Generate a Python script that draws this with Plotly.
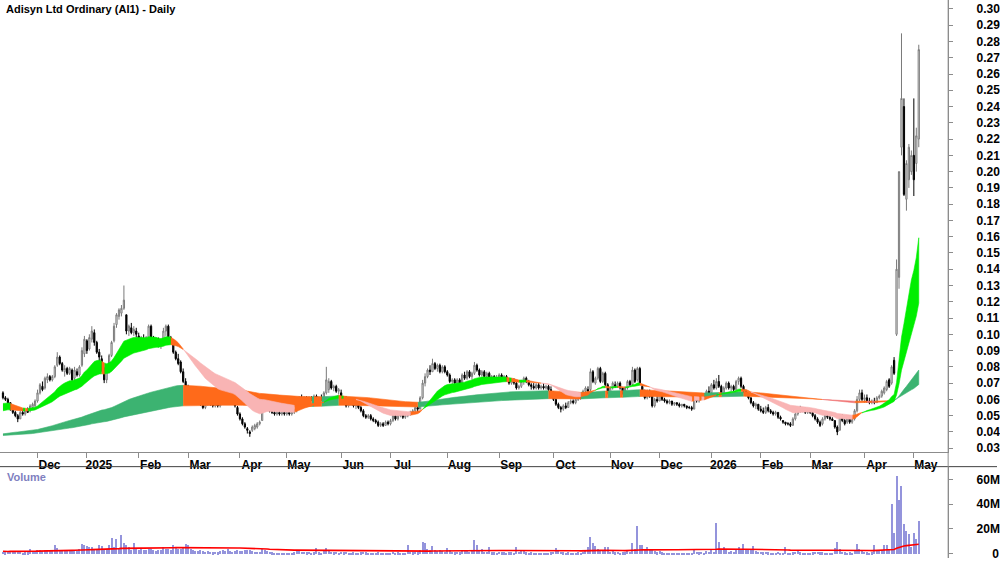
import pandas as pd
import plotly.graph_objects as go

TITLE = "Adisyn Ltd Ordinary (AI1) - Daily"

# Daily bars per month: (open, high, low, close) in thousandths of a dollar, volume in 0.1M shares
nov24 = [(64,65,60,61,20),(61,62,59,60,15),(60,61,57,58,18),(58,58,53,54,22),(54,56,51,52,17),(52,53,49,50,20),(50,51,46,48,25),
         (48,53,48,52,18),(52,54,50,51,12),(51,53,50,53,15),(53,55,52,52,14),(53,57,52,56,40),(55,58,54,57,22),(56,60,55,59,25)]
dec24 = [(59,66,58,64,30),(64,70,63,69,35),(68,71,65,66,28),(67,74,66,73,32),(72,76,70,74,30),(74,75,71,72,25),(72,75,71,74,22),
         (74,81,73,80,75),(81,89,80,86,50),(86,87,81,82,35),(82,83,77,78,30),(77,81,74,79,28),(79,80,75,76,25),(76,80,75,79,30),
         (78,79,69,72,35),(73,80,72,78,32),(77,79,74,75,25),(75,81,74,80,40),(81,92,80,90,85),(88,99,86,97,75)]
jan25 = [(96,97,88,90,67),(91,100,90,98,60),(97,105,95,102,55),(101,103,93,95,40),(95,96,88,89,35),(89,91,83,86,70),(85,87,77,78,65),
         (79,80,70,72,45),(72,80,70,78,40),(77,88,76,87,75),(87,96,86,95,130),(96,107,95,105,60),(106,113,104,112,120),(111,116,109,115,50),
         (113,118,111,116,150),(116,130,115,121,90),(112,112,100,102,70),(102,106,99,105,60),(104,107,100,101,35),(101,105,99,103,90),(102,104,98,100,40)]
feb25 = [(99,101,94,96,35),(96,99,94,98,40),(97,100,95,96,30),(96,99,95,98,35),(98,106,97,105,45),(105,106,97,98,38),(98,99,95,96,30),
         (96,98,94,97,28),(97,98,92,93,35),(93,96,91,95,30),(95,104,94,102,60),(102,106,99,105,45),(105,106,97,98,40),(98,99,94,96,35),
         (96,97,88,89,75),(89,90,84,85,50),(85,88,81,82,40),(83,84,76,77,45),(77,79,70,71,50),(71,73,66,68,85)]
mar25 = [(68,69,63,64,75),(64,67,62,66,40),(65,66,61,62,30),(62,64,60,63,25),(63,64,60,61,22),(61,61,56,57,30),(57,58,54,55,25),
         (55,58,54,57,20),(57,60,56,59,22),(59,60,56,57,18),(57,58,55,56,15),(56,58,55,57,18),(57,57,55,56,14),(56,60,55,59,25),
         (59,63,58,62,30),(62,63,59,60,22),(60,66,59,64,40),(64,65,58,59,28),(59,60,57,58,20),(58,59,55,56,22),(55,56,50,51,30)]
apr25 = [(51,52,47,48,28),(48,49,44,45,25),(45,46,42,43,30),(42,43,39,41,35),(40,41,37,39,30),(41,44,40,43,22),(42,45,41,44,18),
         (43,46,42,45,20),(45,47,44,46,18),(47,56,47,55,40),(54,61,53,59,35),(59,60,55,56,22),(56,57,52,53,18),(53,55,51,52,15),
         (52,53,50,51,12),(51,53,50,52,10),(52,53,50,51,12),(51,53,50,52,10),(52,53,50,51,8)]
may25 = [(51,53,50,52,10),(52,53,50,51,8),(51,53,50,52,12),(52,54,51,53,15),(53,58,52,57,25),(57,62,56,61,30),(60,63,58,59,18),
         (59,62,58,61,20),(61,62,58,59,15),(59,62,58,61,18),(61,62,59,60,12),(60,63,59,62,15),(62,63,59,60,50),(60,62,58,61,15),
         (61,63,59,60,12),(60,65,59,64,25),(64,80,63,72,50),(66,73,64,71,30),(71,72,66,67,20),(67,69,65,68,15),(68,69,64,65,18),(65,67,63,66,12)]
jun25 = [(64,66,57,58,20),(58,62,57,61,15),(61,62,55,56,18),(56,59,55,58,12),(58,60,56,59,10),(59,60,55,56,15),(56,58,54,57,12),
         (57,58,54,55,10),(55,56,52,53,14),(53,54,49,50,18),(50,51,48,49,15),(49,51,48,50,10),(50,51,47,48,12),(48,49,46,47,10),
         (47,48,45,46,12),(46,47,43,44,15),(44,46,43,45,10),(45,46,43,44,8),(44,47,44,46,12),(46,47,44,45,10)]
jul25 = [(45,48,44,47,12),(47,51,46,50,18),(50,51,47,48,12),(48,51,47,50,14),(50,52,49,51,12),(51,52,48,49,10),(49,51,48,50,12),
         (50,52,49,51,75),(51,53,50,52,18),(52,54,51,53,15),(53,56,52,55,20),(55,56,52,54,15),(54,62,54,61,35),(61,72,60,70,100),
         (70,76,68,74,90),(74,79,73,78,45),(78,81,75,77,30),(77,85,77,82,67),(82,83,78,79,35),(79,82,77,81,25),(81,82,76,77,30),
         (77,81,76,80,22),(80,81,76,77,20)]
aug25 = [(77,78,74,75,50),(75,76,70,71,30),(71,73,69,72,20),(72,73,69,70,15),(70,73,69,72,18),(72,73,69,70,15),(70,76,70,75,30),
         (75,77,72,73,22),(73,78,72,77,25),(77,78,73,74,20),(74,77,72,76,25),(76,83,75,81,110),(81,82,77,78,75),(78,79,74,75,30),
         (75,78,74,77,40),(77,78,73,74,20),(74,77,72,76,18),(76,77,72,73,60),(73,75,71,74,15),(74,75,71,72,14),(72,75,71,73,12)]
sep25 = [(73,76,72,75,18),(75,76,72,73,15),(73,75,71,74,14),(74,75,71,72,12),(72,73,69,70,15),(70,73,69,72,14),(72,73,69,70,12),
         (70,71,66,67,60),(67,69,66,68,18),(68,72,67,71,22),(71,74,69,73,25),(73,74,70,71,15),(71,72,68,69,12),(69,70,66,68,14),
         (68,70,66,67,10),(67,70,66,69,12),(69,70,66,67,10),(67,69,66,68,8),(68,70,66,67,10),(67,69,66,68,8),(68,69,65,66,12),(66,68,63,64,15)]
oct25 = [(64,65,59,60,20),(60,61,56,57,50),(57,58,54,55,25),(55,56,52,54,20),(54,57,53,56,15),(56,58,54,55,12),(55,59,55,58,14),
         (58,60,57,59,12),(59,60,57,58,10),(58,61,57,60,12),(60,63,59,62,15),(62,64,60,61,12),(61,66,61,65,20),(65,68,63,67,25),
         (66,68,64,65,60),(66,79,65,77,140),(77,78,70,71,90),(70,74,69,73,67),(73,80,72,79,40),(79,80,70,71,35),(71,77,70,76,25),
         (76,77,68,69,55),(69,70,63,64,55)]
nov25 = [(64,68,63,67,20),(67,71,66,70,25),(69,71,67,68,15),(68,71,67,70,18),(70,71,66,67,12),(67,67,63,64,15),(64,68,63,67,14),
         (67,72,66,71,25),(71,72,68,69,20),(69,80,69,78,90),(78,79,70,71,45),(72,80,71,79,226),(79,80,69,70,70),(68,69,63,64,70),
         (64,66,60,61,40),(61,66,60,65,55),(65,66,61,62,30),(62,62,55,56,40),(56,61,55,60,25),(60,62,58,59,15)]
dec25 = [(59,65,59,64,25),(64,65,59,60,15),(60,61,58,59,12),(59,60,57,58,10),(58,60,57,59,12),(59,59,56,57,10),(57,58,56,58,8),
         (58,58,56,57,10),(57,58,55,56,8),(56,57,55,57,10),(57,57,55,56,8),(56,56,54,55,10),(55,56,54,55,8),(55,56,53,54,12),
         (54,63,54,62,35),(61,62,58,59,20),(59,62,58,61,15),(61,64,60,62,18),(62,63,60,61,12),(61,66,61,65,25),(65,68,63,64,20)]
jan26 = [(64,70,63,69,30),(69,72,66,67,20),(67,73,66,71,250),(71,75,67,68,100),(68,69,63,64,40),(64,68,63,67,55),(67,71,66,70,30),
         (70,71,66,67,20),(67,69,65,68,25),(68,69,65,66,20),(66,72,66,71,35),(71,74,69,73,60),(73,74,67,68,40),(68,69,64,65,80),
         (65,66,62,63,45),(63,64,60,61,30),(61,61,57,58,35),(58,59,55,56,65),(56,58,54,57,25),(57,57,53,54,20)]
feb26 = [(54,56,52,53,18),(53,55,51,52,15),(52,56,51,55,20),(55,57,52,53,15),(53,54,51,52,12),(52,53,50,51,10),(51,53,50,52,12),
         (52,52,48,49,18),(49,50,47,48,12),(47,47,45,46,10),(46,46,44,45,60),(45,46,44,45,8),(45,46,43,44,10),(44,49,44,48,15),
         (48,52,47,51,20),(51,55,50,54,25),(54,56,52,53,15),(53,55,52,54,12),(54,55,51,52,10),(52,54,51,53,12)]
mar26 = [(53,54,51,52,10),(52,53,49,50,15),(50,51,47,48,18),(48,49,45,46,20),(46,47,43,44,15),(45,49,44,48,14),(48,51,47,50,12),
         (50,51,48,49,10),(49,50,47,48,8),(48,49,47,47,10),(47,47,42,43,50),(43,44,38,40,100),(41,51,41,50,40),(50,51,46,47,20),
         (47,48,44,45,15),(46,49,45,48,12),(48,49,45,46,14),(46,49,45,48,12),(48,54,47,53,30),(53,62,52,60,80),(60,66,59,64,45),(64,66,59,60,25)]
apr26 = [(60,63,58,61,20),(61,63,58,59,15),(59,61,57,58,12),(58,60,57,59,14),(59,61,57,58,70),(58,62,58,61,30),(61,63,60,62,25),
         (62,66,61,65,30),(64,68,63,67,70),(66,72,65,71,70),(72,73,67,68,35),(70,81,69,80,400),(84,86,75,76,170),(100,146,99,140,630),
         (135,200,128,200,440),(215,285,210,245,550),(240,245,185,186,240),(183,207,176,205,190),(195,217,190,215,160),(200,213,198,210,60)]
may26 = [(210,245,185,195,170),(205,227,200,222,120),(220,278,215,275,270)]

months = [nov24, dec24, jan25, feb25, mar25, apr25, may25, jun25, jul25, aug25, sep25, oct25,
          nov25, dec25, jan26, feb26, mar26, apr26, may26]

# Ribbon starting levels read at the left edge of the chart
short_fast_start, short_slow_start = 0.0575, 0.0530
long_fast_start, long_slow_start = 0.0388, 0.0378

price_ticks = [round(0.03 + 0.01 * k, 2) for k in range(28)]
vol_ticks = [0, 20e6, 40e6, 60e6]
vol_tick_text = ["\u2007\u2007\u20090", "20M", "40M", "60M"]

# ---------------------------------------------------------------------------
rows = [r for m in months for r in m]
opens = [r[0] / 1000 for r in rows]
highs = [r[1] / 1000 for r in rows]
lows = [r[2] / 1000 for r in rows]
closes = [r[3] / 1000 for r in rows]
volumes = [r[4] * 1e5 for r in rows]

holidays = pd.to_datetime(["2024-12-25", "2024-12-26", "2025-01-01", "2025-01-27", "2025-04-18", "2025-04-21",
                           "2025-04-25", "2025-06-09", "2025-12-25", "2025-12-26", "2026-01-01", "2026-01-26",
                           "2026-04-03", "2026-04-06"])
days = pd.bdate_range("2024-11-12", periods=len(rows) + 20)
days = days[~days.isin(holidays)][:len(rows)]
idx = list(range(len(rows)))

# month ticks
tickvals, ticktext = [], []
for i in range(1, len(days)):
    if days[i].month != days[i - 1].month:
        tickvals.append(i)
        ticktext.append(str(days[i].year) if days[i].month == 1 else days[i].strftime("%b"))


def ema(vals, period, start):
    a = 2.0 / (period + 1)
    out = [start]
    for v in vals[1:]:
        out.append(a * v + (1 - a) * out[-1])
    return out


sf = ema(closes, 20, short_fast_start)
ss = ema(closes, 40, short_slow_start)
lf = ema(closes, 150, long_fast_start)
ls = ema(closes, 300, long_slow_start)
vol_ma = pd.Series(volumes).rolling(60, min_periods=1).mean().tolist()

GREEN, PINK, ORANGE = "#00EE00", "#F9B4B4", "#FF6A1A"
DGREEN, RED = "#3CB371", "#F07474"


def band_traces(fast, slow, up_col, down_col, slope_of):
    cols = [None]
    for i in range(1, len(fast)):
        rising = slope_of[i] >= slope_of[i - 1]
        if fast[i] > slow[i] and rising:
            cols.append(up_col)
        elif fast[i] < slow[i] and not rising:
            cols.append(down_col)
        else:
            cols.append(ORANGE)
    polys = {}
    i = 1
    while i < len(fast):
        c = cols[i]
        j = i
        while j + 1 < len(fast) and cols[j + 1] == c:
            j += 1
        xs = list(range(i - 1, j + 1))
        px = xs + xs[::-1] + [None]
        py = [fast[k] for k in xs] + [slow[k] for k in xs[::-1]] + [None]
        polys.setdefault(c, ([], []))
        polys[c][0].extend(px)
        polys[c][1].extend(py)
        i = j + 1
    out = []
    for c, (px, py) in polys.items():
        out.append(go.Scatter(x=px, y=py, mode="lines", fill="toself", fillcolor=c,
                              line=dict(width=0.6, color=c), hoverinfo="skip", showlegend=False,
                              xaxis="x", yaxis="y"))
    return out


fig = go.Figure()
for t in band_traces(lf, ls, DGREEN, RED, lf):
    fig.add_trace(t)
for t in band_traces(sf, ss, GREEN, PINK, ss):
    fig.add_trace(t)

fig.add_trace(go.Candlestick(
    x=idx, open=opens, high=highs, low=lows, close=closes,
    increasing=dict(line=dict(color="#7A7A7A", width=1), fillcolor="#FFFFFF"),
    decreasing=dict(line=dict(color="#000000", width=1), fillcolor="#000000"),
    whiskerwidth=0, showlegend=False, xaxis="x", yaxis="y"))

fig.add_trace(go.Bar(x=idx, y=volumes, marker=dict(color="#9494DC", line=dict(width=0)), width=0.45,
                     showlegend=False, xaxis="x2", yaxis="y2"))
fig.add_trace(go.Scatter(x=idx, y=vol_ma, mode="lines", line=dict(color="#FF0000", width=1.6),
                         showlegend=False, xaxis="x2", yaxis="y2"))

FONT = "Liberation Sans Narrow, Arial Narrow, Liberation Sans, Arial, sans-serif"
H = 562.0
xr = [-1.2, 382.9]
fig.update_layout(
    width=1000, height=562, margin=dict(l=0, r=0, t=0, b=0),
    paper_bgcolor="white", plot_bgcolor="white", showlegend=False, bargap=0,
    font=dict(family=FONT, size=12, color="black"),
    xaxis=dict(domain=[0, 0.951], range=xr, anchor="y", showgrid=False, zeroline=False,
               showline=True, linecolor="#8C8C8C", linewidth=1, ticks="outside", ticklen=5, tickcolor="#8C8C8C",
               tickvals=tickvals, ticktext=ticktext, ticklabelshift=12, ticklabelstandoff=-3,
               tickfont=dict(family=FONT, size=12, color="black", weight="bold"),
               rangeslider=dict(visible=False), fixedrange=True),
    yaxis=dict(domain=[(H - 455) / H, 1], range=[0.0278, 0.3055], side="right", anchor="x",
               showgrid=False, zeroline=False, showline=True, linecolor="#8C8C8C", linewidth=1,
               ticks="outside", ticklen=4, tickcolor="#8C8C8C", tickvals=price_ticks, tickformat=".2f",
               ticklabelstandoff=21, tickfont=dict(family=FONT, size=12, color="black", weight="bold")),
    xaxis2=dict(domain=[0, 0.951], range=xr, anchor="y2", matches="x", showgrid=False, zeroline=False,
                showticklabels=False, ticks=""),
    yaxis2=dict(domain=[0, (H - 470) / H], range=[-3.44e6, 70.2e6], side="right", anchor="x2",
                showgrid=False, zeroline=False, showline=True, linecolor="#8C8C8C", linewidth=1,
                ticks="outside", ticklen=4, tickcolor="#8C8C8C", tickvals=vol_ticks, ticktext=vol_tick_text,
                ticklabelstandoff=21, tickfont=dict(family=FONT, size=12, color="black", weight="bold")),
    shapes=[
        dict(type="line", xref="paper", yref="paper", x0=0, x1=1, y0=(H - 470) / H, y1=(H - 470) / H,
             line=dict(color="#404040", width=1)),
        dict(type="line", xref="paper", yref="paper", x0=0.951, x1=0.951, y0=0, y1=1,
             line=dict(color="#8C8C8C", width=1)),
    ],
    annotations=[
        dict(text=TITLE, xref="paper", yref="paper", x=4 / 1000, y=1 - 9 / H, xanchor="left", yanchor="middle",
             showarrow=False, font=dict(family=FONT, size=11, color="black", weight="bold")),
        dict(text="Volume", xref="paper", yref="paper", x=5 / 1000, y=1 - 480 / H, xanchor="left", yanchor="middle",
             showarrow=False, font=dict(family=FONT, size=11, color="#8080C0", weight="bold")),
    ],
)

fig.write_html("out.html")
